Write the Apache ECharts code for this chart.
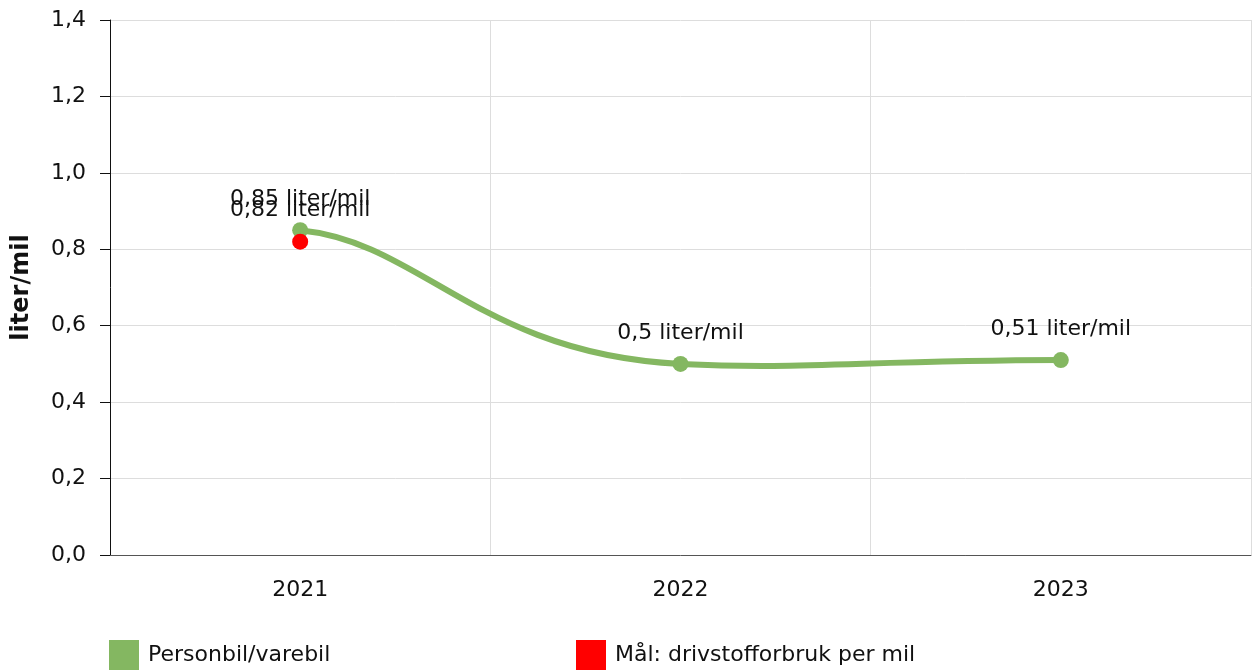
<!DOCTYPE html>
<html><head><meta charset="utf-8">
<script src="https://cdn.jsdelivr.net/npm/echarts@6/dist/echarts.min.js"></script>
<style>html,body{margin:0;padding:0;background:#fff}#c{width:1252px;height:670px}</style>
</head><body><div id="c"></div>
<script>
const categories = ['2021', '2022', '2023'];
const personbil = [0.85, 0.5, 0.51];
const maal = [0.82, null, null];
const seriesNames = ['Personbil/varebil', 'Mål: drivstofforbruk per mil'];
const yAxisName = 'liter/mil';
const unit = ' liter/mil';

const FONT = 'DejaVu Sans, Verdana, sans-serif';
const FS = 22;
const GREEN = '#84B761';
const fmt = v => String(v).replace('.', ',');

// spline through the series points (pixel coords from the axes)
function splinePath(pts) {
  const n = pts.length;
  const slope = i => {
    if (n < 2) return 0;
    if (i === 0) return 0.28 * (pts[1][1] - pts[0][1]) / (pts[1][0] - pts[0][0]);
    if (i === n - 1) return 0.28 * (pts[n - 1][1] - pts[n - 2][1]) / (pts[n - 1][0] - pts[n - 2][0]);
    return 0.29 * (pts[i + 1][1] - pts[i - 1][1]) / (pts[i + 1][0] - pts[i - 1][0]);
  };
  let d = 'M' + pts[0][0] + ' ' + pts[0][1];
  for (let i = 0; i < n - 1; i++) {
    const p = pts[i], q = pts[i + 1], h = q[0] - p[0];
    const a = 0.32 * h, b = 0.53 * h;
    const s0 = slope(i), s1 = slope(i + 1);
    d += ' C' + (p[0] + a) + ' ' + (p[1] + s0 * a) + ' ' + (q[0] - b) + ' ' + (q[1] - s1 * b) + ' ' + q[0] + ' ' + q[1];
  }
  return d;
}

const chart = echarts.init(document.getElementById('c'));
chart.setOption({
  animation: false,
  textStyle: { fontFamily: FONT },
  grid: { left: 110, right: 1, top: 20, bottom: 115, containLabel: false, outerBoundsMode: 'none' },
  legend: [
    { data: [seriesNames[0]], left: 109, top: 640, itemWidth: 30, itemHeight: 30, itemGap: 0, padding: 0,
      icon: 'rect', textStyle: { fontSize: FS, color: '#111', fontFamily: FONT, padding: [0, 0, 0, 4] } },
    { data: [seriesNames[1]], left: 576, top: 640, itemWidth: 30, itemHeight: 30, itemGap: 0, padding: 0,
      icon: 'rect', textStyle: { fontSize: FS, color: '#111', fontFamily: FONT, padding: [0, 0, 0, 4] } }
  ],
  xAxis: {
    type: 'category', data: categories, boundaryGap: true,
    axisLine: { lineStyle: { color: '#555', width: 1 } },
    axisTick: { alignWithLabel: true, length: 8, lineStyle: { color: '#bbb' } },
    axisLabel: { fontSize: FS, color: '#111', margin: 24, fontFamily: FONT },
    splitLine: { show: true, lineStyle: { color: '#ddd' } }
  },
  yAxis: {
    type: 'value', min: 0, max: 1.4, interval: 0.2,
    name: yAxisName, nameLocation: 'middle', nameGap: 76,
    nameTextStyle: { fontSize: 24, fontWeight: 'bold', color: '#111', fontFamily: FONT },
    axisLine: { show: true, lineStyle: { color: '#111' } },
    axisTick: { show: true, length: 10, lineStyle: { color: '#111' } },
    axisLabel: { fontSize: FS, color: '#111', margin: 24, fontFamily: FONT,
      formatter: v => v.toFixed(1).replace('.', ',') },
    splitLine: { lineStyle: { color: '#ddd' } }
  },
  series: [
    { name: 'curve', type: 'custom', z: 1, silent: true,
      data: personbil.map((v, i) => [i, v]),
      encode: { x: 0, y: 1 },
      renderItem: (params, api) => {
        if (params.dataIndex !== 0) return null;
        const pts = personbil.map((v, i) => api.coord([i, v]));
        return { type: 'path', shape: { pathData: splinePath(pts) },
          style: { fill: 'none', stroke: GREEN, lineWidth: 6, lineCap: 'round', lineJoin: 'round' } };
      } },
    { name: seriesNames[0], type: 'line', data: personbil, z: 3,
      symbol: 'circle', symbolSize: 16, color: GREEN,
      lineStyle: { width: 0 }, itemStyle: { color: GREEN },
      label: { show: true, position: 'top', distance: 12, fontSize: FS, color: '#111', fontFamily: FONT,
        formatter: p => fmt(p.value) + unit } },
    { name: seriesNames[1], type: 'line', data: maal, z: 4,
      symbol: 'circle', symbolSize: 16, color: '#FF0000',
      lineStyle: { width: 0 }, itemStyle: { color: '#FF0000' },
      label: { show: true, position: 'top', distance: 12, fontSize: FS, color: '#111', fontFamily: FONT,
        formatter: p => fmt(p.value) + unit } }
  ]
});
</script></body></html>
